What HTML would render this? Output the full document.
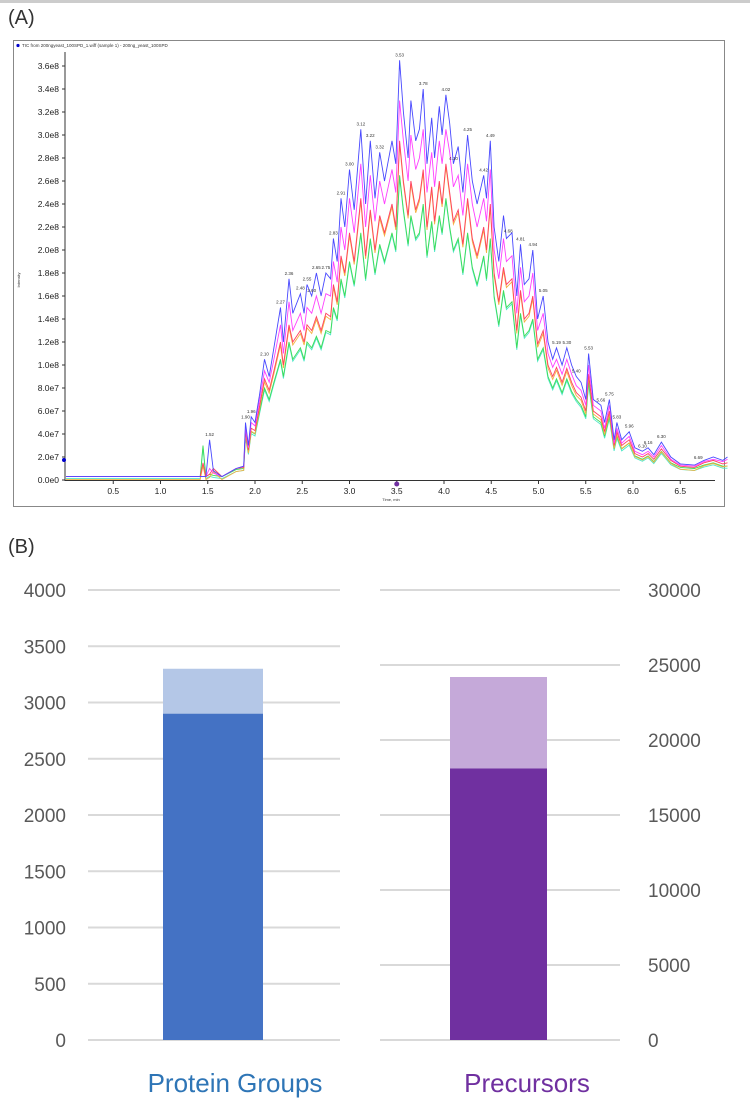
<!DOCTYPE html>
<html><head><meta charset="utf-8"><style>
body{margin:0;background:#fff;width:750px;height:1107px;overflow:hidden;font-family:"Liberation Sans",sans-serif}
svg{position:absolute;left:0;top:0}
</style></head><body>
<svg id="s" width="750" height="1107">
<rect x="0" y="0" width="750" height="3" fill="#ccc"/>
<text x="8" y="24" font-size="20" fill="#333">(A)</text>
<rect x="13.5" y="40.5" width="711" height="466" fill="#fff" stroke="#888"/>
<text x="22" y="47" font-size="4.5" fill="#333">TIC from 200ngyeast_100SPD_1.wiff (sample 1) - 200ng_yeast_100SPD</text>
<circle cx="18" cy="45.5" r="1.6" fill="#00c"/>
<text transform="translate(20,280) rotate(-90)" font-size="4" fill="#333" text-anchor="middle">Intensity</text>
<text x="391" y="501" font-size="4" fill="#333" text-anchor="middle">Time, min</text>
<g id="a"></g>
<text x="8" y="553" font-size="20" fill="#333">(B)</text>
<g id="b"></g>
<text x="235" y="1092" font-size="26" fill="#2e75b6" text-anchor="middle">Protein Groups</text>
<text x="527" y="1092" font-size="26" fill="#7030a0" text-anchor="middle">Precursors</text>
</svg>
<script>
const T=[0,0.3,0.6,0.9,1.2,1.42,1.45,1.48,1.52,1.56,1.65,1.8,1.88,1.9,1.93,1.96,2.0,2.05,2.1,2.15,2.2,2.27,2.3,2.36,2.4,2.48,2.52,2.55,2.6,2.65,2.7,2.75,2.8,2.83,2.87,2.91,2.95,3.0,3.05,3.12,3.17,3.22,3.27,3.32,3.37,3.45,3.49,3.53,3.57,3.62,3.65,3.7,3.74,3.78,3.82,3.87,3.9,3.95,3.98,4.02,4.06,4.1,4.15,4.2,4.25,4.3,4.35,4.42,4.45,4.49,4.53,4.58,4.63,4.66,4.72,4.77,4.81,4.85,4.9,4.94,4.99,5.05,5.1,5.15,5.19,5.25,5.3,5.35,5.4,5.45,5.5,5.53,5.58,5.66,5.7,5.75,5.8,5.83,5.88,5.96,6.02,6.1,6.16,6.22,6.3,6.4,6.5,6.65,6.75,6.85,6.95,7.0];
const B=[0.03,0.03,0.03,0.03,0.03,0.03,0.03,0.03,0.35,0.08,0.03,0.1,0.12,0.5,0.3,0.55,0.5,0.75,1.05,0.9,1.15,1.5,1.2,1.75,1.45,1.62,1.45,1.7,1.6,1.8,1.6,1.8,1.75,2.1,1.9,2.45,2.2,2.7,2.35,3.05,2.4,2.95,2.45,2.85,2.6,2.95,2.75,3.65,3.2,2.8,3.3,2.95,3.05,3.4,2.75,3.15,2.8,3.25,3.0,3.35,3.1,2.75,2.9,2.5,3.0,2.6,2.4,2.65,2.45,2.95,2.2,1.9,2.3,2.1,2.15,1.6,2.05,1.7,1.75,2.0,1.4,1.6,1.2,1.05,1.15,1.0,1.15,1.0,0.9,0.85,0.7,1.1,0.7,0.65,0.5,0.7,0.35,0.5,0.35,0.42,0.28,0.25,0.28,0.22,0.33,0.2,0.14,0.13,0.17,0.2,0.17,0.2];
const M=[0.03,0.03,0.03,0.03,0.03,0.03,0.03,0.03,0.1,0.06,0.03,0.1,0.12,0.45,0.28,0.5,0.47,0.7,0.95,0.85,1.05,1.35,1.1,1.55,1.3,1.45,1.3,1.5,1.45,1.6,1.45,1.62,1.6,1.9,1.72,2.2,2.0,2.45,2.15,2.75,2.2,2.65,2.25,2.6,2.4,2.7,2.5,3.3,2.95,2.6,3.0,2.7,2.8,3.05,2.5,2.85,2.55,2.95,2.75,3.05,2.85,2.55,2.65,2.3,2.75,2.4,2.2,2.45,2.25,2.7,2.0,1.75,2.1,1.9,1.95,1.45,1.85,1.55,1.6,1.8,1.3,1.45,1.1,0.98,1.05,0.92,1.05,0.92,0.82,0.78,0.65,1.0,0.65,0.6,0.45,0.65,0.32,0.45,0.32,0.38,0.25,0.22,0.25,0.2,0.3,0.18,0.13,0.12,0.16,0.18,0.16,0.18];
const R=[0.03,0.03,0.03,0.03,0.03,0.03,0.15,0.03,0.05,0.1,0.03,0.1,0.11,0.42,0.26,0.45,0.43,0.65,0.88,0.78,0.95,1.2,1.0,1.35,1.2,1.3,1.2,1.35,1.3,1.42,1.3,1.45,1.42,1.7,1.55,1.95,1.8,2.15,1.9,2.45,1.95,2.35,2.0,2.3,2.15,2.4,2.2,2.95,2.6,2.3,2.6,2.35,2.45,2.7,2.2,2.55,2.25,2.6,2.4,2.75,2.5,2.25,2.35,2.05,2.45,2.1,1.95,2.2,2.0,2.4,1.8,1.55,1.85,1.7,1.75,1.3,1.65,1.4,1.45,1.6,1.18,1.3,1.0,0.9,0.98,0.85,0.97,0.85,0.76,0.72,0.6,0.92,0.6,0.55,0.42,0.6,0.3,0.42,0.3,0.35,0.23,0.2,0.23,0.18,0.27,0.17,0.12,0.11,0.15,0.17,0.14,0.15];
const G=[0.03,0.03,0.03,0.03,0.03,0.03,0.3,0.03,0.05,0.04,0.03,0.09,0.1,0.38,0.24,0.42,0.4,0.6,0.8,0.7,0.85,1.05,0.9,1.2,1.05,1.15,1.05,1.2,1.15,1.25,1.15,1.3,1.28,1.5,1.4,1.75,1.6,1.9,1.7,2.15,1.75,2.1,1.8,2.05,1.9,2.15,2.0,2.65,2.35,2.05,2.3,2.1,2.15,2.4,1.95,2.25,2.0,2.3,2.15,2.45,2.2,2.0,2.1,1.8,2.15,1.85,1.7,1.95,1.75,2.1,1.6,1.35,1.65,1.5,1.55,1.15,1.45,1.25,1.3,1.4,1.05,1.15,0.9,0.8,0.88,0.76,0.88,0.77,0.7,0.65,0.55,0.85,0.55,0.5,0.38,0.55,0.27,0.38,0.27,0.32,0.21,0.18,0.21,0.16,0.25,0.15,0.11,0.1,0.13,0.15,0.12,0.12];
const peakLabels=[1.52,1.90,1.96,2.10,2.27,2.36,2.48,2.55,2.60,2.65,2.75,2.83,2.91,3.00,3.12,3.22,3.32,3.53,3.78,4.02,4.10,4.25,4.42,4.49,4.68,4.81,4.94,5.05,5.19,5.30,5.40,5.53,5.66,5.75,5.83,5.96,6.10,6.16,6.30,6.69];
const yTicksA=[0,0.2,0.4,0.6,0.8,1.0,1.2,1.4,1.6,1.8,2.0,2.2,2.4,2.6,2.8,3.0,3.2,3.4,3.6];
const yTickLabelsA=["0.0e0","2.0e7","4.0e7","6.0e7","8.0e7","1.0e8","1.2e8","1.4e8","1.6e8","1.8e8","2.0e8","2.2e8","2.4e8","2.6e8","2.8e8","3.0e8","3.2e8","3.4e8","3.6e8"];
const xTicksA=[0.5,1.0,1.5,2.0,2.5,3.0,3.5,4.0,4.5,5.0,5.5,6.0,6.5];
const cats=["Protein Groups","Precursors"];
const totalVals=[3300,24200];
const coreVals=[2900,18100];
const leftTicks=[0,500,1000,1500,2000,2500,3000,3500,4000];
const rightTicks=[0,5000,10000,15000,20000,25000,30000];

const NS="http://www.w3.org/2000/svg";
function mk(tag,attrs,parent){const e=document.createElementNS(NS,tag);for(const k in attrs)e.setAttribute(k,attrs[k]);parent.appendChild(e);return e;}
const ga=document.getElementById('a'),gb=document.getElementById('b');
const xA=t=>66+t*94.5, yA=v=>480-v*115;
let e=mk('line',{x1:65,y1:52,x2:65,y2:481,stroke:'#333','stroke-width':1},ga);


e=mk('line',{x1:65,y1:480.5,x2:715,y2:480.5,stroke:'#333','stroke-width':1},ga);


yTicksA.forEach((v,i)=>{
  mk('line',{x1:62,x2:65,y1:yA(v),y2:yA(v),stroke:'#333'},ga);
  const t=mk('text',{x:59,y:yA(v)+3,'font-size':8.5,'text-anchor':'end',fill:'#222'},ga);
  t.textContent=yTickLabelsA[i];
  
  
});
xTicksA.forEach(v=>{
  mk('line',{x1:xA(v),x2:xA(v),y1:480,y2:484,stroke:'#333'},ga);
  const t=mk('text',{x:xA(v),y:494,'font-size':8.5,'text-anchor':'middle',fill:'#222'},ga);
  t.textContent=v.toFixed(1);
  
  
});
const n=Math.min(T.length,B.length,M.length,R.length,G.length);
function pathOf(arr,dy){let d='';for(let i=0;i<n;i++)d+=(i?'L':'M')+xA(T[i]).toFixed(1)+','+(yA(arr[i])+dy).toFixed(1);return d;}
[[G,'#4fe8c8',2],[G,'#3ddc57',0],[R,'#f5b040',3],[R,'#ff4060',0],[M,'#ff40ff',0],[B,'#4848ff',0]].forEach((s,i)=>{
  const p=mk('path',{d:pathOf(s[0],s[2]),fill:'none',stroke:s[1],'stroke-width':0.9},ga);
  
  
});
function interp(t){for(let i=1;i<n;i++){if(T[i]>=t){const f=(t-T[i-1])/(T[i]-T[i-1]);return B[i-1]+f*(B[i]-B[i-1]);}}return B[n-1];}
peakLabels.forEach(t=>{
  let best=interp(t);
  for(let i=0;i<n;i++)if(Math.abs(T[i]-t)<0.03)best=Math.max(best,B[i]);
  const l=mk('text',{x:xA(t),y:yA(best)-4,'font-size':4.5,'text-anchor':'middle',fill:'#333'},ga);
  l.textContent=t.toFixed(2);
  
  
});
e=mk('circle',{cx:xA(3.5),cy:484,r:2.5,fill:'#7030a0'},ga);


e=mk('circle',{cx:64,cy:460,r:2,fill:'#00c'},ga);



const yL=v=>1040-v*450/4000, yR=v=>1040-v*450/30000;
leftTicks.forEach(v=>{
  const l=mk('line',{x1:88,x2:340,y1:yL(v),y2:yL(v),stroke:'#d9d9d9','stroke-width':2},gb);
  
  
  const t=mk('text',{x:66,y:yL(v)+7,'font-size':19,'text-anchor':'end',fill:'#595959'},gb);
  t.textContent=v;
  
  
});
rightTicks.forEach(v=>{
  const l=mk('line',{x1:380,x2:620,y1:yR(v),y2:yR(v),stroke:'#d9d9d9','stroke-width':2},gb);
  
  
  const t=mk('text',{x:648,y:yR(v)+7,'font-size':19,'text-anchor':'start',fill:'#595959'},gb);
  t.textContent=v;
  
  
});
const bars=[{x:163,w:100,y:yL,light:'#b4c7e7',dark:'#4472c4'},{x:450,w:97,y:yR,light:'#c5a9d9',dark:'#7030a0'}];
cats.forEach((c,i)=>{
  const b=bars[i];
  const r1=mk('rect',{x:b.x,y:b.y(totalVals[i]),width:b.w,height:b.y(0)-b.y(totalVals[i]),fill:b.light},gb);
  
  
  const r2=mk('rect',{x:b.x,y:b.y(coreVals[i]),width:b.w,height:b.y(0)-b.y(coreVals[i]),fill:b.dark},gb);
  
  
});
</script>
</body></html>
